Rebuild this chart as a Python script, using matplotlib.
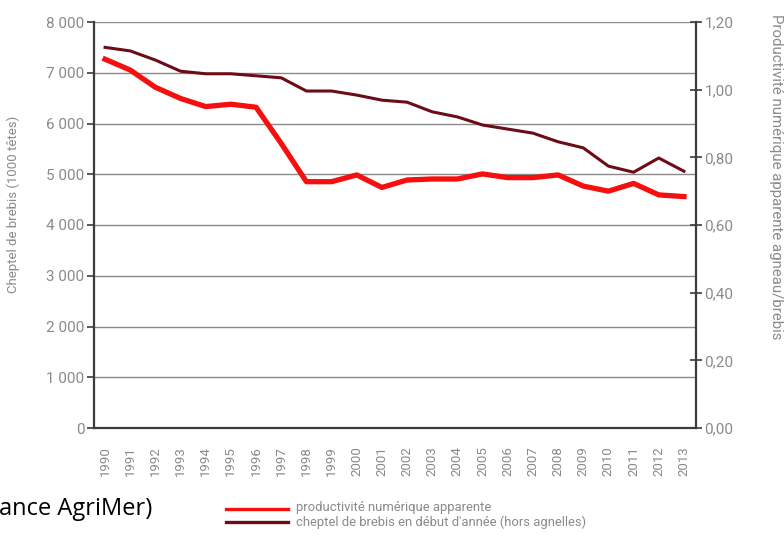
import matplotlib
matplotlib.use('Agg')
import matplotlib.pyplot as plt
from matplotlib.ticker import FuncFormatter

years = list(range(1990, 2014))
cheptel = [7500, 7430, 7250, 7030, 6980, 6980, 6940, 6900, 6640, 6640, 6560, 6460,
           6420, 6230, 6130, 5970, 5890, 5810, 5640, 5520, 5160, 5040, 5320, 5060]
productivite = [1.090, 1.058, 1.007, 0.974, 0.950, 0.957, 0.948, 0.841, 0.728, 0.728,
                0.748, 0.711, 0.733, 0.736, 0.736, 0.751, 0.740, 0.740, 0.748, 0.715,
                0.700, 0.723, 0.689, 0.684]

gray = '#8a8a8a'
red = '#f50f0f'
dark = '#6b0c16'

plt.rcParams['font.family'] = ['Roboto', 'DejaVu Sans']

fig = plt.figure(figsize=(7.84, 5.42), dpi=100)
ax = fig.add_axes([94 / 784, 1 - 428 / 542, 602 / 784, 406 / 542])
ax2 = ax.twinx()

ax.plot(years, cheptel, color=dark, lw=2.2, zorder=3)
ax2.plot(years, productivite, color=red, lw=3.8, zorder=3)

ax.set_xlim(1989.56, 2013.48)
ax.set_ylim(0, 8000)
ax2.set_ylim(0, 1.2)
ax.set_yticks(range(0, 8001, 1000))
ax2.set_yticks([0, 0.2, 0.4, 0.6, 0.8, 1.0, 1.2])
ax.set_xticks(years)
ax.set_xticklabels([str(y) for y in years], rotation=90)

ax.yaxis.set_major_formatter(FuncFormatter(lambda v, p: f'{int(v):,}'.replace(',', ' ')))
ax2.yaxis.set_major_formatter(FuncFormatter(lambda v, p: f'{v:.2f}'.replace('.', ',')))

ax.grid(axis='y', color='#8a8a8a', lw=1.0)
ax.set_axisbelow(True)

for a in (ax, ax2):
    for s in a.spines.values():
        s.set_visible(False)
ax.spines['left'].set_visible(True)
ax.spines['bottom'].set_visible(True)
ax2.spines['right'].set_visible(True)
for s in (ax.spines['left'], ax.spines['bottom'], ax2.spines['right']):
    s.set_color('#3c3c3c')
    s.set_linewidth(1.6)

ax.tick_params(axis='y', colors='#3c3c3c', labelcolor=gray, labelsize=11, length=5, width=1.2, pad=2)
ax.tick_params(axis='x', length=0, labelcolor=gray, labelsize=9.5, pad=13)
ax2.tick_params(axis='y', colors='#3c3c3c', labelcolor=gray, labelsize=11, length=8, width=1.2,
                direction='inout', pad=2)

ax.set_ylabel('Cheptel de brebis (1000 têtes)', color=gray, fontsize=9.5)
ax.yaxis.set_label_coords(-74 / 602, 0.55)

fig.text(776 / 784, 1 - 14 / 542, 'Productivité numérique apparente agneau/brebis', color=gray,
         fontsize=10.8, rotation=270, ha='center', va='top')

# legend drawn below the chart
fig.lines.append(plt.Line2D([226 / 784, 288 / 784], [1 - 509 / 542] * 2, color=red, lw=2.4,
                            transform=fig.transFigure))
fig.lines.append(plt.Line2D([226 / 784, 288 / 784], [1 - 522 / 542] * 2, color=dark, lw=2.4,
                            transform=fig.transFigure))
fig.text(296 / 784, 1 - 508 / 542, 'productivité numérique apparente', color=gray,
         fontsize=9.4, va='center')
fig.text(296 / 784, 1 - 522 / 542, "cheptel de brebis en début d'année (hors agnelles)",
         color=gray, fontsize=9.4, va='center')

fig.text(152 / 784, 1 - 509 / 542, 'ance AgriMer)', color='black', fontsize=17,
         ha='right', va='center', family=['Open Sans', 'DejaVu Sans'])

fig.savefig('out.png', dpi=100)
